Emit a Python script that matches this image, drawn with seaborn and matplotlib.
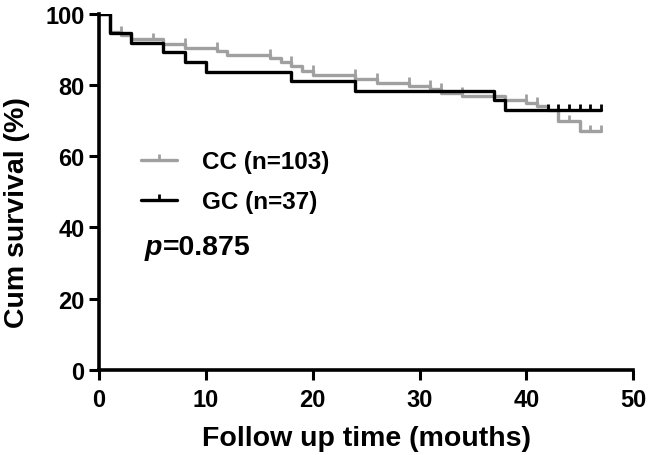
import numpy as np
import pandas as pd
import matplotlib
matplotlib.use("Agg")
import matplotlib.pyplot as plt
from matplotlib.lines import Line2D
import seaborn as sns

# Kaplan-Meier steps (time in months, survival in %)
cc_times = [0, 1, 2, 3, 6, 8, 11, 12, 16, 17, 18, 19, 20, 24, 26, 29, 31, 32, 34, 38, 40, 41, 42, 43, 45, 47]
cc_surv = [100, 94.9, 94.0, 93.1, 91.6, 90.4, 89.7, 88.5, 87.6, 86.5, 85.5, 84.0, 82.9, 81.8, 80.6, 79.9,
           78.9, 77.8, 76.9, 75.9, 75.0, 74.1, 72.9, 70.0, 67.2, 67.2]
cc_censor = [2, 5, 8, 11, 16, 18, 20, 24, 26, 29, 31, 32, 34, 37, 40, 41, 44, 46, 47]

gc_times = [0, 1, 3, 6, 8, 10, 18, 24, 37, 38, 47]
gc_surv = [100, 94.6, 91.9, 89.2, 86.5, 83.8, 81.1, 78.4, 75.7, 73.0, 73.0]
gc_censor = [42, 43, 44, 45, 46, 47]

labels = ["CC (n=103)", "GC (n=37)"]
colors = ["#a0a0a0", "#000000"]
p_value = "=0.875"

sns.set_style("ticks")
plt.rcParams["font.family"] = ["Liberation Sans", "DejaVu Sans"]
plt.rcParams["font.weight"] = "bold"
plt.rcParams["text.color"] = "black"
plt.rcParams["axes.labelcolor"] = "black"
plt.rcParams["xtick.color"] = "black"
plt.rcParams["ytick.color"] = "black"
plt.rcParams["axes.edgecolor"] = "black"

fig, ax = plt.subplots(figsize=(6.48, 4.56), dpi=100)
fig.subplots_adjust(left=0.153, right=0.977, top=0.967, bottom=0.187)

tick_marker = [(0, 0), (0, 1)]  # censor tick pointing up from the curve


def level_at(times, surv, t):
    i = np.searchsorted(times, t, side="left") - 1
    return surv[max(i, 0)]


groups = [(cc_times, cc_surv, cc_censor), (gc_times, gc_surv, gc_censor)]
for (t, s, c), col, lab in zip(groups, colors, labels):
    df = pd.DataFrame({"time": t, "surv": s})
    sns.lineplot(data=df, x="time", y="surv", ax=ax, color=col, lw=2.4,
                 drawstyle="steps-post", estimator=None, sort=False)
    cy = [level_at(t, s, x) for x in c]
    ax.plot(c, cy, linestyle="none", marker=tick_marker, markersize=9,
            markeredgewidth=2.0, color=col)

ax.set_xlim(0, 50)
ax.set_ylim(0, 100)
ax.set_xticks([0, 10, 20, 30, 40, 50])
ax.set_yticks([0, 20, 40, 60, 80, 100])
ax.set_xlabel("Follow up time (mouths)", fontsize=20.5, fontweight="bold")
ax.set_ylabel("Cum survival (%)", fontsize=20.5, fontweight="bold")
ax.xaxis.set_label_coords(0.5, -0.155)
ax.yaxis.set_label_coords(-0.153, 0.446)
ax.yaxis.label.set_va("center")
ax.tick_params(axis="both", labelsize=17, width=2.2, length=7, color="black")
ax.tick_params(axis="x", pad=6)
for lab in ax.get_xticklabels() + ax.get_yticklabels():
    lab.set_fontweight("bold")
for sp in ["left", "bottom"]:
    ax.spines[sp].set_linewidth(2.6)
sns.despine(ax=ax)

handles = [Line2D([], [], color=c, lw=2.4, marker=tick_marker, markersize=9,
                  markeredgewidth=2.0) for c in colors]
ax.legend(handles, labels, loc="upper left", bbox_to_anchor=(0.06, 0.645), frameon=False,
          prop={"size": 17.5, "weight": "bold"}, handlelength=1.5, handletextpad=1.0,
          labelspacing=0.7, borderaxespad=0)

t1 = ax.text(0.086, 0.325, "p", transform=ax.transAxes, fontsize=20.5, fontweight="bold",
             style="italic", va="baseline")
ax.annotate(p_value, xy=(1, 0), xycoords=t1, va="bottom", fontsize=20.5, fontweight="bold")

fig.savefig("out.png", dpi=100)
